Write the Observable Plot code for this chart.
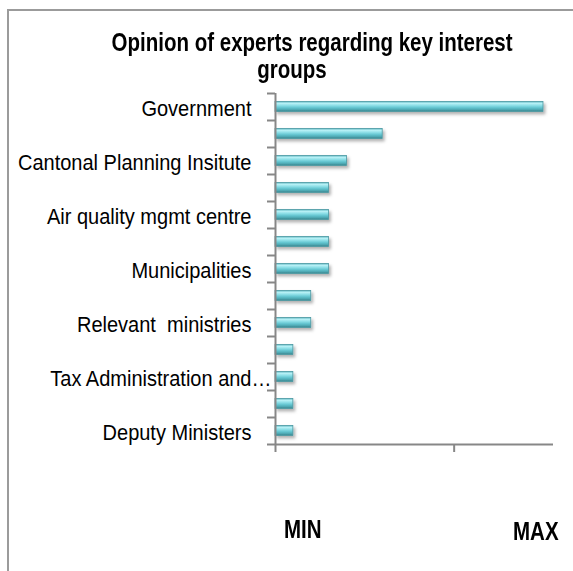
<!DOCTYPE html>
<html><head><meta charset="utf-8">
<script src="https://cdn.jsdelivr.net/npm/d3@7"></script>
<script src="https://cdn.jsdelivr.net/npm/@observablehq/plot@0.6"></script>
<style>
body{margin:0;background:#fff;overflow:hidden}
#wrap{position:relative;width:573px;height:571px;overflow:hidden;font-family:"Liberation Sans",Arial,sans-serif}
#frame{position:absolute;left:7px;top:9px;width:700px;height:700px;border-left:2px solid #9b9b9b;border-top:2px solid #9b9b9b}
.narrow{position:absolute;font-weight:bold;font-size:25px;line-height:27px;color:#000;transform:scaleX(0.82);white-space:nowrap}
#title{left:72px;width:440px;top:29px;text-align:center;transform-origin:center top}
#min{left:284px;top:516px;transform-origin:left top}
#max{left:513px;top:518px;transform-origin:left top}
#chart{position:absolute;left:0;top:0}
#chart svg text{white-space:pre}
</style></head>
<body>
<div id="wrap">
  <div id="frame"></div>
  <div id="chart"></div>
  <div id="title" class="narrow"></div>
  <div id="min" class="narrow"></div>
  <div id="max" class="narrow"></div>
</div>
<script>
const titleLines = ["Opinion of experts regarding key interest", "groups"];
const groups = ["Government", "", "Cantonal Planning Insitute", "", "Air quality mgmt centre", "", "Municipalities", "", "Relevant  ministries", "", "Tax Administration and\u2026", "", "Deputy Ministers"];
const scores = [15, 6, 4, 3, 3, 3, 3, 2, 2, 1, 1, 1, 1];
const xTicks = [0, 10];
const xMax = 15.56;
const endLabels = ["MIN", "MAX"];

const rows = scores.map((v, i) => ({rank: i, label: groups[i], score: v}));
const full = rows.filter(d => d.label && !d.label.endsWith("\u2026"));
const cut = rows.filter(d => d.label && d.label.endsWith("\u2026"));

const axisColor = "#878787";
const chart = Plot.plot({
  width: 573, height: 571,
  marginLeft: 275, marginRight: 20, marginTop: 93, marginBottom: 127,
  x: {domain: [0, xMax], axis: null},
  y: {domain: [groups.length, 0], axis: null},
  style: {background: "transparent", fontFamily: "'Liberation Sans', Arial, sans-serif", overflow: "visible"},
  marks: [
    Plot.rect(rows, {x1: 0, x2: "score", y1: "rank", y2: d => d.rank + 1, insetTop: 8.5, insetBottom: 8.5,
      fill: "url(#barGrad)", stroke: "#4b98a2", strokeWidth: 0.8}),
    Plot.axisY(d3.range(groups.length + 1), {tickSize: 8, tickFormat: () => "", stroke: axisColor, strokeWidth: 2, label: null}),
    Plot.axisX(xTicks, {tickSize: 8, tickFormat: () => "", stroke: axisColor, strokeWidth: 2, label: null}),
    Plot.ruleX([0], {stroke: axisColor, strokeWidth: 2}),
    Plot.ruleY([groups.length], {stroke: axisColor, strokeWidth: 2}),
    Plot.text(full, {y: d => d.rank + 0.5, text: "label", frameAnchor: "left", textAnchor: "end", dx: -24, dy: 1.5, fontSize: 20, fill: "#000"}),
    Plot.text(cut, {y: d => d.rank + 0.5, text: "label", frameAnchor: "left", textAnchor: "end", dx: -4, dy: 1.5, fontSize: 20, fill: "#000"})
  ]
});

const svg = d3.select(chart);
const defs = svg.insert("defs", ":first-child");
const g = defs.append("linearGradient").attr("id", "barGrad").attr("x1", 0).attr("y1", 0).attr("x2", 0).attr("y2", 1);
[[0, "#5fb6c0"], [0.18, "#b9f1f6"], [0.38, "#8fe0e8"], [0.62, "#62c4cf"], [0.85, "#4ba3ad"], [1, "#357c85"]]
  .forEach(([o, c]) => g.append("stop").attr("offset", o).attr("stop-color", c));
const f = defs.append("filter").attr("id", "barShadow").attr("x", "-10%").attr("y", "-50%").attr("width", "130%").attr("height", "250%");
f.append("feDropShadow").attr("dx", 2).attr("dy", 2.5).attr("stdDeviation", 1.4).attr("flood-color", "#000").attr("flood-opacity", 0.3);
svg.select('g[aria-label="rect"]').attr("filter", "url(#barShadow)");

document.getElementById("chart").appendChild(chart);
// make the category labels taller while keeping their width (condensed look)
svg.selectAll('g[aria-label="text"] text').each(function() {
  const w = this.getComputedTextLength();
  this.setAttribute("font-size", 22);
  this.setAttribute("textLength", w);
  this.setAttribute("lengthAdjust", "spacingAndGlyphs");
});
svg.selectAll('g[aria-label="text"]').attr("font-size", null);
document.getElementById("title").innerHTML = titleLines.join("<br>");
document.getElementById("min").textContent = endLabels[0];
document.getElementById("max").textContent = endLabels[1];
</script>
</body></html>
